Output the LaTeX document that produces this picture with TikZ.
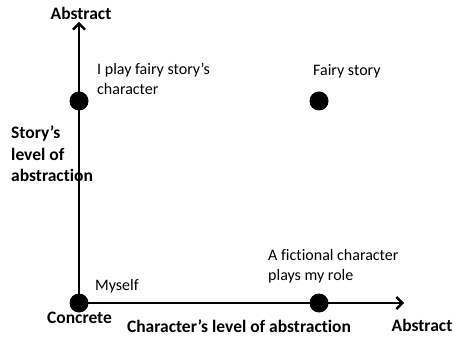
\documentclass[tikz,border=0pt]{standalone}
\usepackage{fontspec}
\setmainfont[Ligatures=NoCommon]{Carlito}
\usetikzlibrary{arrows.meta}
\tikzset{
  spot/.style={circle, fill=black, inner sep=0, minimum size=19pt},
  axistext/.style={font=\fontsize{17.5}{21.5}\selectfont\bfseries, inner sep=0},
  pointtext/.style={font=\fontsize{16}{19.5}\selectfont, inner sep=0, anchor=west, align=left}
}
\begin{document}
\begin{tikzpicture}[x=1pt, y=1pt]

\useasboundingbox (0,0) rectangle (454,337);

\node[spot] (myself) at (79,34) {};
\node[spot] (play) at (79,236) {};
\node[spot] (fairy) at (319,236) {};
\node[spot] (fictional) at (319,34) {};

\coordinate (ytip) at (79,315);
\coordinate (xtip) at (404,34);

\draw[line width=2.4pt, -{Straight Barb[length=6pt, width=12pt, line width=2.4pt]}] (myself.center) to (ytip);
\draw[line width=2.4pt, -{Straight Barb[length=6pt, width=12pt, line width=2.4pt]}] (myself.center) to (xtip);

\node[axistext] (ytop) at (81,324) {Abstract};
\node[axistext] (concrete) at (79.5,19) {Concrete};
\node[axistext] (xname) at (239,11) {Character’s level of abstraction};
\node[axistext] (xend) at (422,12) {Abstract};
\node[axistext, anchor=west, align=left] (yname) at (11,183) {Story’s\\level of\\abstraction};

\node[pointtext] (playtext) at (97,258) {I play fairy story’s\\character};
\node[pointtext] (fairytext) at (313,266) {Fairy story};
\node[pointtext] (myselftext) at (95,51) {Myself};
\node[pointtext] (fictext) at (268,71) {A fictional character\\plays my role};

\end{tikzpicture}
\end{document}
